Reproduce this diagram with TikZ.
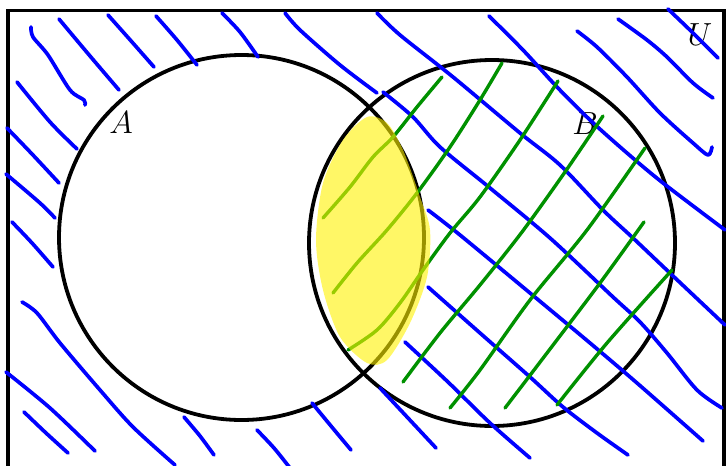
\RequirePackage{fix-cm}
\documentclass[tikz,border=0pt]{standalone}
\definecolor{hatchblue}{RGB}{0,0,255}
\definecolor{hatchgreen}{RGB}{0,145,0}
\begin{document}
\begin{tikzpicture}[x=1pt, y=-1pt,
    setline/.style={line width=3.8pt, black},
    bluehatch/.style={line width=3.7pt, hatchblue, line cap=round, line join=round},
    greenhatch/.style={line width=3.4pt, hatchgreen, line cap=round, line join=round},
    marker/.style={fill=yellow, fill opacity=0.6},
    setlabel/.style={font=\fontsize{32}{38}\selectfont}]
    \useasboundingbox (0,0) rectangle (726,466);
    \clip (0,0) rectangle (726,466);
    % Universe frame
    \draw[setline] (8,10.5) rectangle (724,490);
    % Sets A and B
    \draw[setline] (241.5,237.5) circle (182.5);
    \draw[setline] (492,243) circle (183);
    % Labels
    \node[setlabel] (labA) at (121,123) {$A$};
    \node[setlabel] (labB) at (585,124) {$B$};
    \node[setlabel] (labU) at (700,35) {$U$};
    % Blue hatching, left part
    \draw[bluehatch] plot[smooth, tension=0.5] coordinates {(31,27) (33,37) (48,55) (70,90) (84,100) (85,105)};
    \draw[bluehatch] plot[smooth, tension=0.5] coordinates {(59,19) (90,56) (119,90)};
    \draw[bluehatch] plot[smooth, tension=0.5] coordinates {(108,15) (132,42) (154,67)};
    \draw[bluehatch] plot[smooth, tension=0.5] coordinates {(156,16) (177,40) (197,65)};
    \draw[bluehatch] plot[smooth, tension=0.5] coordinates {(222,13) (240,32) (258,57)};
    \draw[bluehatch] plot[smooth, tension=0.5] coordinates {(17,82) (50,122) (77,149)};
    \draw[bluehatch] plot[smooth, tension=0.5] coordinates {(7,128) (32,154) (59,183)};
    \draw[bluehatch] plot[smooth, tension=0.5] coordinates {(6,174) (40,203) (55,218)};
    \draw[bluehatch] plot[smooth, tension=0.5] coordinates {(12,222) (32,243) (53,267)};
    \draw[bluehatch] plot[smooth, tension=0.5] coordinates {(22,302) (37,313) (60,343) (100,390) (133,427) (175,465)};
    \draw[bluehatch] plot[smooth, tension=0.5] coordinates {(6,372) (50,408) (95,451)};
    \draw[bluehatch] plot[smooth, tension=0.5] coordinates {(24,412) (46,433) (68,453)};
    \draw[bluehatch] plot[smooth, tension=0.5] coordinates {(184,417) (200,436) (214,455)};
    \draw[bluehatch] plot[smooth, tension=0.5] coordinates {(257,430) (274,448) (290,468)};
    \draw[bluehatch] plot[smooth, tension=0.5] coordinates {(312,403) (331,426) (351,450)};
    \draw[bluehatch] plot[smooth, tension=0.5] coordinates {(380,388) (408,418) (436,448)};
    % Blue hatching, top and right part
    \draw[bluehatch] plot[smooth, tension=0.5] coordinates {(285,13) (300,30) (340,65) (377,93)};
    \draw[bluehatch] plot[smooth, tension=0.5] coordinates {(377,13) (400,35) (453,77) (520,133) (560,165) (603,210) (633,238) (672,275) (725,325)};
    \draw[bluehatch] plot[smooth, tension=0.5] coordinates {(383,92) (413,117) (440,147) (490,188) (550,238) (613,297) (640,322) (667,353) (697,390) (722,408)};
    \draw[bluehatch] plot[smooth, tension=0.5] coordinates {(489,16) (523,50) (557,87) (590,120) (627,153) (663,183) (725,230)};
    \draw[bluehatch] plot[smooth, tension=0.5] coordinates {(577,31) (597,47) (627,77) (660,113) (693,143) (708,155) (712,147)};
    \draw[bluehatch] plot[smooth, tension=0.5] coordinates {(618,19) (647,40) (667,57) (693,83) (713,98)};
    \draw[bluehatch] plot[smooth, tension=0.5] coordinates {(668,9) (693,33) (718,58)};
    \draw[bluehatch] plot[smooth, tension=0.5] coordinates {(428,210) (460,235) (530,293) (590,343) (637,383) (703,441)};
    \draw[bluehatch] plot[smooth, tension=0.5] coordinates {(428,287) (480,333) (530,377) (563,407) (597,433) (628,455)};
    \draw[bluehatch] plot[smooth, tension=0.5] coordinates {(405,342) (448,382) (490,423) (530,458)};
    % Green hatching inside B
    \draw[greenhatch] plot[smooth, tension=0.5] coordinates {(442,77) (417,107) (393,137) (373,157) (350,187) (323,218)};
    \draw[greenhatch] plot[smooth, tension=0.5] coordinates {(502,63) (480,100) (450,147) (417,193) (387,230) (357,263) (333,293)};
    \draw[greenhatch] plot[smooth, tension=0.5] coordinates {(558,81) (520,140) (480,197) (450,233) (423,270) (400,303) (377,330) (348,350)};
    \draw[greenhatch] plot[smooth, tension=0.5] coordinates {(603,116) (565,172) (522,232) (480,285) (440,333) (403,382)};
    \draw[greenhatch] plot[smooth, tension=0.5] coordinates {(645,148) (587,230) (530,300) (480,370) (450,408)};
    \draw[greenhatch] plot[smooth, tension=0.5] coordinates {(644,222) (600,283) (547,353) (505,408)};
    \draw[greenhatch] plot[smooth, tension=0.5] coordinates {(672,270) (607,343) (557,405)};
    % Highlighted intersection
    \fill[marker] plot[smooth cycle] coordinates {(367,117) (387,123) (403,150) (420,197) (430,230) (427,277) (410,323) (387,360) (367,363) (340,337) (323,290) (316,240) (323,183) (343,140)};
\end{tikzpicture}
\end{document}
